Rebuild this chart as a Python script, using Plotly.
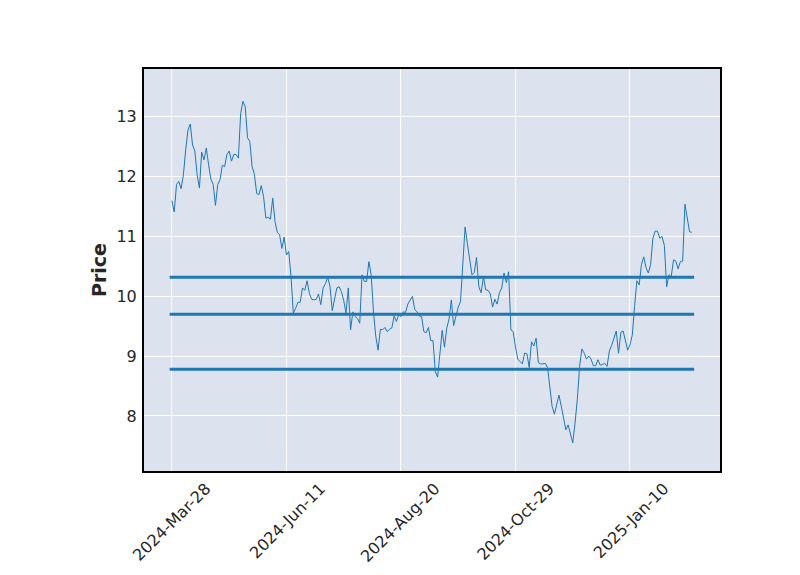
import plotly.graph_objects as go

prices = [
    11.60, 11.41, 11.87, 11.92, 11.80, 12.03, 12.45, 12.78, 12.88, 12.53,
    12.43, 12.03, 11.81, 12.41, 12.28, 12.48, 12.20, 11.96, 11.87, 11.52,
    11.87, 11.95, 12.19, 12.17, 12.37, 12.43, 12.26, 12.37, 12.37, 12.31,
    13.05, 13.26, 13.17, 12.65, 12.59, 12.17, 12.04, 11.72, 11.70, 11.85,
    11.67, 11.31, 11.32, 11.29, 11.64, 11.25, 11.07, 11.03, 10.80, 10.99,
    10.69, 10.75, 10.33, 9.72, 9.80, 9.90, 9.90, 10.14, 10.10, 10.26,
    10.05, 9.95, 9.94, 9.95, 10.04, 9.86, 10.14, 10.21, 10.32, 10.17,
    9.76, 9.97, 10.14, 10.16, 10.08, 9.93, 9.72, 10.14, 9.44, 9.74,
    9.66, 9.63, 9.55, 10.36, 10.25, 10.25, 10.58, 10.36, 9.74, 9.33,
    9.10, 9.45, 9.44, 9.48, 9.41, 9.45, 9.47, 9.67, 9.58, 9.69,
    9.66, 9.74, 9.73, 9.87, 9.93, 10.00, 9.78, 9.74, 9.67, 9.66,
    9.41, 9.39, 9.48, 9.26, 9.26, 8.74, 8.65, 9.05, 9.43, 9.15,
    9.47, 9.62, 9.94, 9.51, 9.65, 9.82, 9.91, 10.50, 11.16, 10.88,
    10.62, 10.36, 10.40, 10.65, 10.16, 10.06, 10.33, 10.11, 10.10, 10.04,
    9.82, 9.95, 9.87, 10.06, 10.14, 10.39, 10.23, 10.41, 9.44, 9.41,
    9.15, 8.95, 8.91, 8.87, 9.05, 9.04, 8.81, 9.24, 9.17, 9.30,
    8.89, 8.87, 8.87, 8.88, 8.81, 8.50, 8.16, 8.03, 8.20, 8.35,
    8.16, 7.94, 7.77, 7.85, 7.72, 7.55, 7.88, 8.28, 8.83, 9.12,
    9.05, 8.95, 9.00, 8.95, 8.84, 8.84, 8.94, 8.85, 8.86, 8.88,
    8.83, 9.09, 9.18, 9.31, 9.42, 9.05, 9.40, 9.42, 9.24, 9.10,
    9.19, 9.35, 9.83, 10.26, 10.19, 10.53, 10.66, 10.48, 10.39, 10.53,
    10.97, 11.09, 11.09, 10.97, 11.00, 10.85, 10.16, 10.36, 10.33, 10.61,
    10.59, 10.46, 10.58, 10.59, 11.54, 11.33, 11.08, 11.07,
]

levels = [10.32, 9.70, 8.78]

tick_index = [0, 50, 100, 150, 200]
tick_labels = ["2024-Mar-28", "2024-Jun-11", "2024-Aug-20", "2024-Oct-29", "2025-Jan-10"]

n = len(prices)
idx = list(range(n))

fig = go.Figure()
fig.add_trace(go.Scatter(x=idx, y=prices, mode="lines",
                         line=dict(color="#1f77b4", width=1),
                         showlegend=False, hoverinfo="skip"))
for lv in levels:
    fig.add_trace(go.Scatter(x=[-1, n], y=[lv, lv], mode="lines",
                             line=dict(color="#1f77b4", width=3),
                             showlegend=False, hoverinfo="skip"))

font_color = "#262626"
fig.update_layout(
    width=800, height=575,
    margin=dict(l=144, r=80, t=69, b=104),
    paper_bgcolor="white",
    plot_bgcolor="#DCE3EF",
    font=dict(family="DejaVu Sans", size=16, color=font_color),
)
fig.update_xaxes(
    range=[-12.2, 239.3],
    tickvals=tick_index, ticktext=tick_labels,
    tickangle=-45,
    ticklabelshift=34,
    ticklabelstandoff=0,
    automargin=False,
    showgrid=True, gridcolor="white", gridwidth=1,
    zeroline=False,
    showline=True, linecolor="black", linewidth=2, mirror=True,
    ticks="",
    tickfont=dict(size=16, color=font_color),
)
fig.update_yaxes(
    range=[7.08, 13.80],
    tickvals=[8, 9, 10, 11, 12, 13],
    automargin=False,
    showgrid=True, gridcolor="white", gridwidth=1,
    zeroline=False,
    showline=True, linecolor="black", linewidth=2, mirror=True,
    ticks="",
    ticklabelstandoff=2,
    tickfont=dict(size=16, color=font_color),
    title=dict(text="<b>Price</b>", font=dict(size=19, color=font_color), standoff=5),
)

fig.write_html("out.html")
